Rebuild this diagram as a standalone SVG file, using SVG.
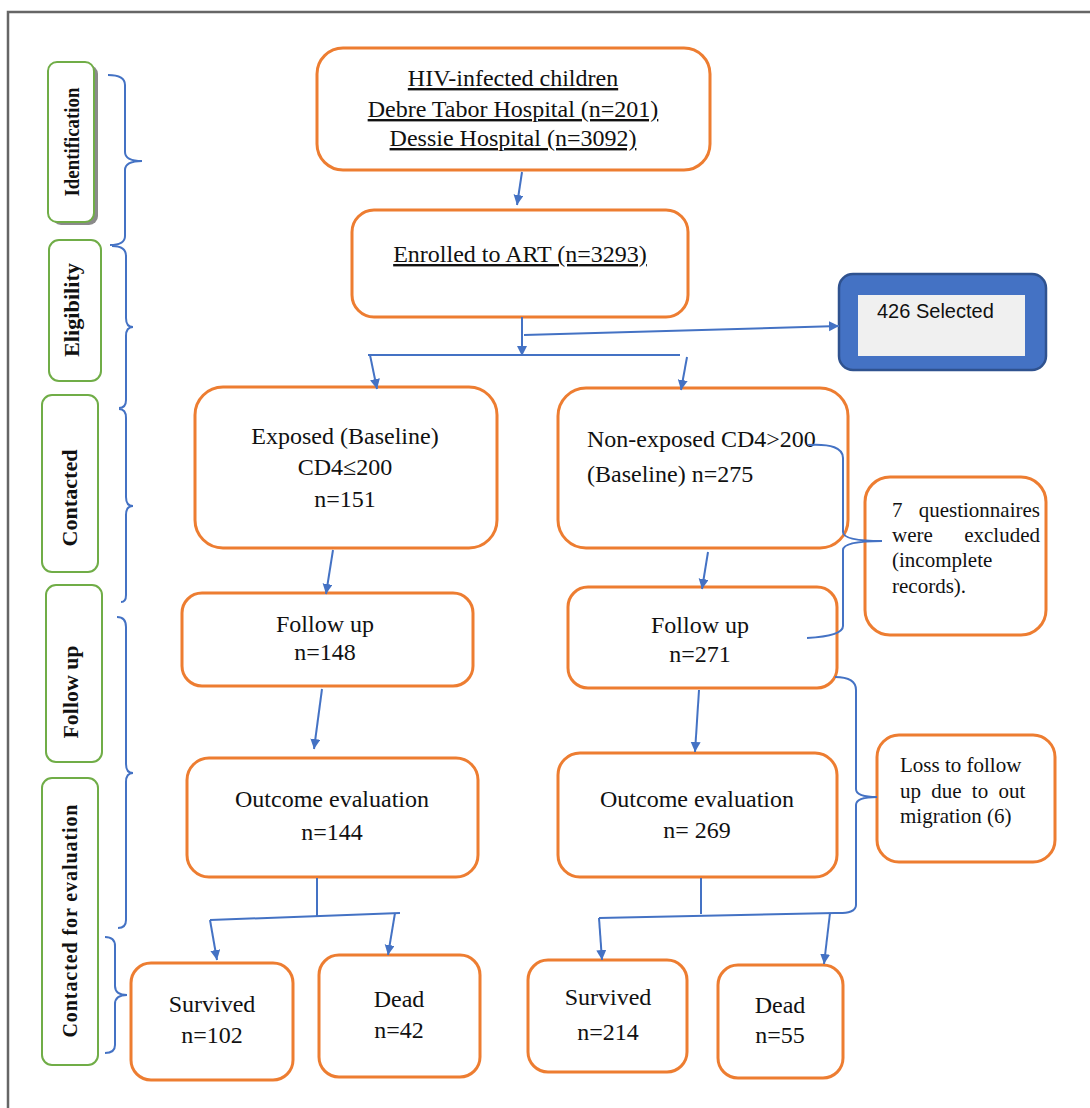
<svg xmlns="http://www.w3.org/2000/svg" width="1090" height="1108" viewBox="0 0 1090 1108">
<defs>
<marker id="ah" markerWidth="11" markerHeight="11" refX="10" refY="5" orient="auto" markerUnits="userSpaceOnUse">
<path d="M0,0 L10,5 L0,10 z" fill="#4472C4"/>
</marker>
</defs>
<style>
.box{fill:#fff;stroke:#ED7D31;stroke-width:3}
.lab{fill:#fff;stroke:#70AD47;stroke-width:2}
.t{font-family:"Liberation Serif","Times New Roman",serif;font-size:24px;fill:#111}
.tc{text-anchor:middle}
.s{font-size:21px}
.lt{font-family:"Liberation Serif","Times New Roman",serif;font-size:20px;font-weight:bold;fill:#111;text-anchor:middle}
.c{fill:none;stroke:#4472C4;stroke-width:2}
.a{marker-end:url(#ah)}
</style>
<rect width="1090" height="1108" fill="#fff"/>
<g id="frame"><path d="M8,1108 V12 H1090" fill="none" stroke="#666" stroke-width="2.5"/></g>

<g id="label-identification">
<rect x="52" y="65" width="46" height="160" rx="9" fill="#8a8a8a"/>
<rect class="lab" x="48" y="62" width="46" height="160" rx="9"/>
<text class="lt" transform="translate(79,142) rotate(-90)" textLength="109" lengthAdjust="spacingAndGlyphs">Identification</text>
</g>
<g id="label-eligibility">
<rect class="lab" x="49" y="240" width="52" height="141" rx="10"/>
<text class="lt" transform="translate(79,310) rotate(-90)" textLength="94" lengthAdjust="spacingAndGlyphs">Eligibility</text>
</g>
<g id="label-contacted">
<rect class="lab" x="42" y="395" width="56" height="177" rx="10"/>
<text class="lt" transform="translate(77,498) rotate(-90)" textLength="97" lengthAdjust="spacingAndGlyphs">Contacted</text>
</g>
<g id="label-followup">
<rect class="lab" x="46" y="585" width="56" height="177" rx="10"/>
<text class="lt" transform="translate(78,692) rotate(-90)" textLength="93" lengthAdjust="spacingAndGlyphs">Follow up</text>
</g>
<g id="label-evaluation">
<rect class="lab" x="42" y="778" width="56" height="287" rx="10"/>
<text class="lt" transform="translate(77,921) rotate(-90)" textLength="233" lengthAdjust="spacing">Contacted for evaluation</text>
</g>

<g id="braces">
<path class="c" d="M108,75 Q125,75 125,85 V152 Q125,161 142,161 Q125,161 125,170 V236 Q125,245 110,245"/>
<path class="c" d="M112,246 Q126,246 126,256 V318 Q126,327 133,327 Q126,327 126,336 V400 Q126,408 119,408"/>
<path class="c" d="M119,409 Q126,409 126,418 V497 Q126,506 133,506 Q126,506 126,515 V595 Q126,602 121,602"/>
<path class="c" d="M117,617 Q126,617 126,627 V764 Q126,773 133,773 Q126,773 126,782 V920 Q126,928 118,928"/>
<path class="c" d="M105,937 Q115,937 115,946 V986 Q115,995 127,995 Q115,995 115,1004 V1045 Q115,1053 105,1053"/>
</g>

<g id="n-hiv">
<rect class="box" x="317" y="48" width="393" height="122" rx="26"/>
<text class="t tc" x="513" y="86" text-decoration="underline">HIV-infected children</text>
<text class="t tc" x="513" y="117" text-decoration="underline">Debre Tabor Hospital (n=201)</text>
<text class="t tc" x="513" y="146" text-decoration="underline">Dessie Hospital (n=3092)</text>
</g>
<g id="n-enrolled">
<rect class="box" x="352" y="210" width="336" height="107" rx="22"/>
<text class="t tc" x="520" y="262" text-decoration="underline">Enrolled to ART (n=3293)</text>
</g>
<g id="n-selected">
<rect x="839" y="274" width="207" height="96" rx="14" fill="#4472C4" stroke="#2F528F" stroke-width="2.5"/>
<rect x="858" y="295" width="167" height="61" fill="#F0F0F0"/>
<text x="877" y="318" font-family="'Liberation Sans',Arial,sans-serif" font-size="20" fill="#111">426 Selected</text>
</g>
<g id="n-exposed">
<rect class="box" x="195" y="387" width="302" height="161" rx="28"/>
<text class="t tc" x="345" y="444">Exposed (Baseline)</text>
<text class="t tc" x="345" y="475">CD4≤200</text>
<text class="t tc" x="345" y="507">n=151</text>
</g>
<g id="n-nonexposed">
<rect class="box" x="558" y="388" width="290" height="160" rx="28"/>
<text class="t" x="587" y="447">Non-exposed CD4&gt;200</text>
<text class="t" x="587" y="482">(Baseline) n=275</text>
</g>
<g id="n-excluded">
<rect class="box" x="865" y="477" width="181" height="158" rx="25"/>
<text class="t s" x="892" y="517">7</text>
<text class="t s" x="1040" y="517" text-anchor="end">questionnaires</text>
<text class="t s" x="892" y="542">were</text>
<text class="t s" x="1040" y="542" text-anchor="end">excluded</text>
<text class="t s" x="892" y="567">(incomplete</text>
<text class="t s" x="892" y="593">records).</text>
</g>
<g id="n-follow-l">
<rect class="box" x="182" y="593" width="291" height="93" rx="20"/>
<text class="t tc" x="325" y="632">Follow up</text>
<text class="t tc" x="325" y="660">n=148</text>
</g>
<g id="n-follow-r">
<rect class="box" x="568" y="587" width="269" height="101" rx="20"/>
<text class="t tc" x="700" y="633">Follow up</text>
<text class="t tc" x="700" y="662">n=271</text>
</g>
<g id="n-outcome-l">
<rect class="box" x="187" y="758" width="291" height="119" rx="22"/>
<text class="t tc" x="332" y="807">Outcome evaluation</text>
<text class="t tc" x="332" y="840">n=144</text>
</g>
<g id="n-outcome-r">
<rect class="box" x="558" y="753" width="279" height="124" rx="22"/>
<text class="t tc" x="697" y="807">Outcome evaluation</text>
<text class="t tc" x="697" y="838">n= 269</text>
</g>
<g id="n-loss">
<rect class="box" x="877" y="735" width="178" height="127" rx="22"/>
<text class="t s" x="900" y="772" font-size="22">Loss to follow</text>
<text class="t s" x="900" y="798" word-spacing="5">up due to out</text>
<text class="t s" x="900" y="823">migration (6)</text>
</g>
<g id="n-surv-l">
<rect class="box" x="131" y="963" width="162" height="117" rx="20"/>
<text class="t tc" x="212" y="1012">Survived</text>
<text class="t tc" x="212" y="1043">n=102</text>
</g>
<g id="n-dead-l">
<rect class="box" x="319" y="955" width="161" height="122" rx="20"/>
<text class="t tc" x="399" y="1007">Dead</text>
<text class="t tc" x="399" y="1038">n=42</text>
</g>
<g id="n-surv-r">
<rect class="box" x="528" y="960" width="159" height="112" rx="20"/>
<text class="t tc" x="608" y="1005">Survived</text>
<text class="t tc" x="608" y="1040">n=214</text>
</g>
<g id="n-dead-r">
<rect class="box" x="718" y="965" width="125" height="113" rx="20"/>
<text class="t tc" x="780" y="1013">Dead</text>
<text class="t tc" x="780" y="1043">n=55</text>
</g>

<g id="connectors">
<path class="c a" d="M522,172 L517,205"/>
<path class="c a" d="M522,317 L522,356"/>
<path class="c" d="M368,355 L680,355"/>
<path class="c a" d="M524,335 L839,326"/>
<path class="c a" d="M370,355 L377,389"/>
<path class="c a" d="M687,357 L681,390"/>
<path class="c a" d="M333,550 L326,594"/>
<path class="c a" d="M708,552 L702,589"/>
<path class="c a" d="M322,689 L314,749"/>
<path class="c a" d="M699,690 L695,752"/>
<path class="c" d="M317,878 V916"/>
<path class="c" d="M210,920 L400,913"/>
<path class="c a" d="M210,920 L217,960"/>
<path class="c a" d="M395,913 L388,955"/>
<path class="c" d="M701,878 V914"/>
<path class="c" d="M599,918 L835,913"/>
<path class="c a" d="M599,918 L602,960"/>
<path class="c a" d="M830,913 L824,964"/>
<path class="c" d="M808,445 Q843,443 843,458 V532 Q843,541 882,541 Q843,541 843,550 V626 Q843,636 807,638"/>
<path class="c" d="M835,677 Q856,677 856,690 V789 Q856,797 877,797 Q856,797 856,805 V905 Q856,914 835,913"/>
</g>
</svg>
